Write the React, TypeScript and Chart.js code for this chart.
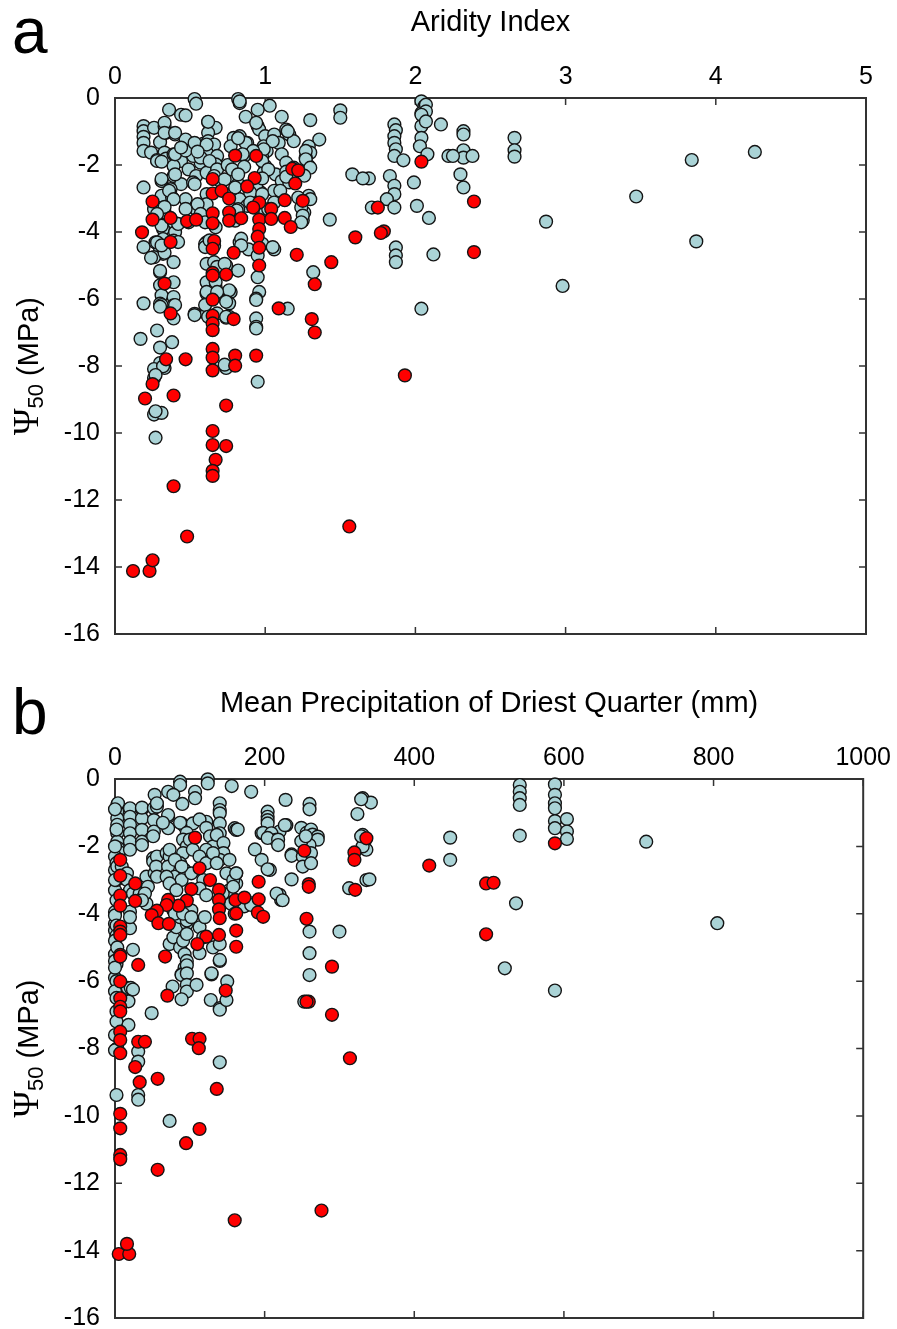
import React, { useEffect, useRef } from 'react';
import { Chart, registerables } from 'chart.js';

Chart.register(...registerables);

// ---------- tick labels ----------
const aridityTicks = [0, 1, 2, 3, 4, 5];
const precipTicks = [0, 200, 400, 600, 800, 1000];
const psiTicks = [0, -2, -4, -6, -8, -10, -12, -14, -16];

// ---------- panel a: Aridity Index vs Psi50 ----------
const aridityRed: [number, number][] = [
  [0.80, -1.72], [0.94, -1.73], [2.04, -1.90], [1.18, -2.11], [1.22, -2.16], [0.65, -2.42], [0.93, -2.39],
  [0.88, -2.64], [1.20, -2.55], [0.65, -2.85], [0.71, -2.77], [0.76, -3.00], [0.25, -3.09], [0.96, -3.12],
  [1.13, -3.05], [1.25, -3.07], [1.75, -3.27], [0.92, -3.27], [1.04, -3.31], [0.65, -3.44], [0.76, -3.41],
  [0.25, -3.63], [0.37, -3.58], [0.48, -3.68], [0.54, -3.63], [0.76, -3.66], [0.84, -3.59], [0.96, -3.63],
  [1.04, -3.61], [1.13, -3.58], [0.65, -3.74], [1.17, -3.85], [0.18, -4.01], [1.79, -3.98], [1.77, -4.03],
  [1.60, -4.16], [0.96, -3.91], [0.95, -4.14], [0.37, -4.30], [0.66, -4.27], [0.65, -4.50], [0.96, -4.47],
  [0.79, -4.62], [1.21, -4.68], [1.44, -4.90], [0.96, -5.00], [0.65, -5.22], [0.65, -5.30], [0.74, -5.27],
  [0.33, -5.54], [1.33, -5.56], [0.65, -6.02], [1.09, -6.28], [1.31, -6.60], [0.37, -6.43], [0.65, -6.50],
  [0.79, -6.60], [0.65, -6.73], [0.65, -6.93], [1.33, -7.00], [0.34, -7.80], [0.47, -7.80], [0.65, -7.49],
  [0.65, -7.75], [0.65, -8.13], [0.80, -7.69], [0.80, -7.99], [0.94, -7.69], [0.25, -8.54], [0.20, -8.97],
  [0.39, -8.88], [0.74, -9.18], [0.65, -9.94], [0.65, -10.36], [0.74, -10.39], [0.67, -10.80], [0.65, -11.13],
  [0.65, -11.28], [0.39, -11.59], [0.48, -13.09], [1.56, -12.79], [0.12, -14.12], [0.23, -14.12], [0.25, -13.80],
  [2.39, -3.09], [2.39, -4.60], [1.93, -8.28],
];

const aridityBlue: [number, number][] = [
  [0.53, -0.03], [0.54, -0.17], [0.82, -0.03], [0.83, -0.15], [0.36, -0.35], [0.44, -0.50], [0.47, -0.52],
  [1.03, -0.23], [0.95, -0.35], [0.87, -0.56], [1.11, -0.56], [1.30, -0.66], [1.50, -0.37], [1.50, -0.59],
  [0.95, -0.84], [0.96, -0.94], [0.62, -0.72], [0.67, -0.89], [0.19, -0.84], [0.19, -0.99], [0.19, -1.16],
  [0.19, -1.34], [0.19, -1.58], [0.26, -0.89], [0.33, -0.84], [0.34, -1.04], [0.40, -1.09], [0.30, -1.32],
  [0.24, -1.63], [0.33, -1.63], [0.28, -1.85], [0.34, -1.81], [0.39, -1.68], [0.44, -1.55], [0.47, -1.24],
  [0.54, -1.44], [0.59, -1.36], [0.62, -1.04], [0.62, -1.29], [0.66, -1.39], [0.61, -1.63], [0.68, -1.73],
  [0.67, -1.98], [0.79, -1.19], [0.83, -1.14], [0.88, -1.34], [0.77, -1.44], [0.86, -1.73], [1.00, -1.14],
  [1.06, -1.09], [1.14, -0.94], [1.16, -1.09], [1.19, -1.29], [1.36, -1.24], [1.29, -1.44], [1.30, -1.63],
  [1.27, -1.78], [1.29, -2.03], [0.99, -1.44], [1.01, -1.58], [0.98, -1.78], [1.09, -1.34], [1.11, -1.68],
  [1.14, -1.93], [1.19, -2.08], [1.07, -2.28], [1.11, -2.48], [1.00, -2.03], [0.99, -2.23], [1.06, -2.77],
  [1.16, -2.52], [1.29, -2.92], [1.26, -3.42], [1.25, -3.66], [1.43, -3.63], [0.57, -1.93], [0.52, -1.73],
  [0.44, -1.88], [0.39, -2.03], [0.49, -2.13], [0.54, -2.33], [0.61, -2.23], [0.39, -2.33], [0.31, -2.48],
  [0.44, -2.57], [0.52, -2.52], [0.37, -2.72], [0.31, -2.92], [0.38, -2.97], [0.47, -3.02], [0.54, -3.32],
  [0.59, -3.22], [0.70, -2.48], [0.79, -2.33], [0.82, -2.57], [0.79, -2.82], [0.83, -3.02], [0.97, -2.82],
  [0.94, -2.62], [1.10, -2.77], [0.88, -3.22], [0.82, -3.32], [1.00, -3.42], [0.26, -3.32], [0.33, -3.42],
  [0.39, -3.71], [0.32, -3.91], [0.40, -4.01], [0.32, -4.21], [0.39, -4.26], [0.27, -4.31], [0.30, -4.50],
  [0.32, -4.65], [0.26, -4.75], [0.39, -4.90], [0.30, -5.20], [0.30, -5.59], [0.39, -5.50], [0.31, -5.89],
  [0.39, -5.94], [0.39, -6.19], [0.30, -6.14], [0.39, -6.58], [0.61, -4.31], [0.60, -4.36], [0.66, -4.41],
  [0.89, -4.52], [0.83, -4.31], [1.06, -4.52], [0.95, -4.70], [0.61, -4.95], [0.66, -4.90], [0.74, -5.00],
  [0.82, -5.15], [1.32, -5.20], [0.95, -5.35], [0.61, -5.50], [0.67, -5.64], [0.77, -5.79], [0.74, -6.04],
  [0.61, -5.84], [0.96, -5.79], [0.94, -5.99], [0.53, -6.44], [0.61, -6.44], [0.74, -6.56], [0.94, -6.58],
  [1.15, -6.29], [2.04, -6.29],
  [1.86, -0.79], [1.87, -0.96], [1.86, -1.14], [1.86, -1.34], [1.87, -1.53], [1.86, -1.73], [1.92, -1.86],
  [2.04, -0.10], [2.06, -0.25], [2.04, -0.45], [2.06, -0.64], [2.04, -0.84], [2.17, -0.79], [2.04, -1.19],
  [2.03, -1.44], [2.08, -1.68], [1.99, -2.52], [2.01, -3.22], [2.09, -3.58], [2.12, -4.67], [1.58, -2.28],
  [1.69, -2.40], [1.83, -2.33], [1.86, -2.62], [1.86, -2.87], [1.81, -3.02], [1.71, -3.27], [1.86, -3.27],
  [1.87, -4.46], [1.87, -4.70], [1.87, -4.90], [2.22, -1.73],
  [2.07, -0.20], [2.07, -0.40], [2.04, -0.50], [2.07, -0.70], [2.32, -0.99], [2.32, -1.09], [2.66, -1.19],
  [2.66, -1.56], [2.66, -1.75], [2.32, -1.56], [2.32, -1.78], [2.25, -1.73], [2.38, -1.73], [2.30, -2.28],
  [2.32, -2.67], [2.87, -3.69], [2.98, -5.61], [3.47, -2.94], [3.84, -1.85], [3.87, -4.28], [4.26, -1.61],
  [0.31, -6.18], [0.53, -6.48], [0.60, -6.18], [0.68, -6.43], [0.76, -6.13], [0.76, -6.53], [0.94, -6.03],
  [0.94, -6.83], [0.94, -6.88], [0.17, -7.19], [0.28, -6.94], [0.30, -7.45], [0.38, -7.29], [0.30, -7.91],
  [0.33, -8.06], [0.26, -8.09], [0.26, -8.36], [0.26, -9.45], [0.31, -9.40], [0.27, -9.35], [0.27, -10.14],
  [0.74, -8.06], [0.95, -8.47], [0.19, -6.13], [0.19, -4.45], [0.19, -2.67],
  [0.24, -4.77], [0.33, -4.62], [0.30, -5.16], [0.30, -6.23], [0.40, -6.18], [0.32, -8.01], [0.27, -8.27],
  [0.60, -4.45], [0.68, -5.04], [0.73, -4.95], [0.67, -5.49], [0.61, -5.79], [0.76, -5.74], [0.68, -5.79],
  [0.74, -6.08], [0.62, -6.53], [0.74, -6.53], [0.73, -7.96],
  [0.33, -0.74], [0.33, -1.04], [0.40, -1.04], [0.28, -1.88], [0.31, -1.90], [0.40, -1.68], [0.47, -1.57],
  [0.53, -1.34], [0.61, -1.39], [0.44, -1.48], [0.57, -1.78], [0.55, -1.60], [0.63, -1.88], [0.68, -2.13],
  [0.75, -2.00], [0.66, -2.33], [0.73, -2.43], [0.78, -2.13], [0.31, -2.42], [0.40, -2.28], [0.36, -2.77],
  [0.39, -3.02], [0.53, -2.57], [0.61, -2.87], [0.61, -3.17], [0.55, -3.17], [0.47, -3.31], [0.33, -3.25],
  [0.28, -3.46], [0.31, -3.81], [0.42, -3.76], [0.57, -3.46], [0.60, -3.71], [0.49, -3.71], [0.67, -3.86],
  [0.28, -4.31], [0.31, -4.40], [0.42, -4.30], [0.63, -4.25], [0.62, -0.71],
  [0.83, -0.10], [0.94, -0.74], [1.15, -0.99], [1.05, -1.29], [0.87, -1.34], [0.82, -1.20], [0.99, -1.53],
  [0.92, -1.58], [0.85, -1.68], [1.27, -1.58], [1.27, -1.83], [1.30, -2.08], [0.98, -1.88], [1.02, -2.13],
  [0.86, -2.05], [0.82, -2.28], [0.98, -2.40], [1.14, -2.20], [1.14, -2.35], [1.26, -2.32], [0.80, -2.67],
  [0.90, -2.82], [0.98, -2.87], [1.22, -2.97], [1.30, -3.02], [0.90, -3.12], [1.06, -3.12], [1.24, -3.27],
  [1.02, -3.32], [1.25, -3.51], [1.24, -3.71], [0.81, -3.36], [0.80, -3.66], [1.65, -2.40], [0.84, -4.20],
  [0.84, -4.40], [0.98, -4.35], [1.05, -4.45],
];

// ---------- panel b: Mean Precipitation of Driest Quarter vs Psi50 ----------
const precipRed: [number, number][] = [
  [107, -1.74], [253, -2.13], [320, -2.18], [320, -2.40], [336, -1.76], [420, -2.57], [7, -2.40], [7, -2.87],
  [27, -3.10], [7, -3.46], [7, -3.76], [27, -3.62], [113, -2.65], [127, -3.00], [102, -3.27], [139, -3.29],
  [139, -3.59], [139, -3.87], [140, -4.13], [139, -4.63], [122, -4.68], [110, -4.90], [96, -3.61], [85, -3.76],
  [71, -3.59], [69, -3.74], [56, -3.91], [49, -4.04], [58, -4.28], [72, -4.30], [161, -3.59], [173, -3.52],
  [162, -3.99], [162, -4.50], [162, -4.98], [192, -3.05], [192, -3.57], [191, -3.96], [198, -4.09],
  [259, -3.12], [259, -3.20], [256, -4.15], [321, -3.29], [7, -4.38], [7, -4.53], [7, -4.63], [7, -5.22],
  [7, -5.27], [31, -5.52], [67, -5.27], [290, -5.57], [7, -6.01], [496, -3.10], [506, -3.08], [496, -4.61],
  [588, -1.91], [7, -6.51], [7, -6.76], [7, -6.90], [7, -7.50], [7, -7.75], [7, -8.14], [31, -7.80],
  [40, -7.80], [27, -8.55], [33, -9.00], [57, -8.90], [70, -6.43], [148, -6.28], [259, -6.61], [256, -6.61],
  [290, -7.00], [103, -7.71], [113, -7.71], [112, -7.99], [314, -8.29], [136, -9.20], [7, -9.94], [7, -10.37],
  [7, -11.16], [7, -11.29], [113, -10.39], [95, -10.81], [57, -11.60], [160, -13.10], [276, -12.81],
  [5, -14.10], [19, -14.10], [16, -13.80],
];

const precipBlue: [number, number][] = [
  [541, -0.18], [541, -0.38], [541, -0.57], [541, -0.77], [541, -1.68], [588, -0.16], [588, -0.47],
  [588, -0.72], [588, -0.87], [588, -1.25], [588, -1.46], [604, -1.19], [604, -1.56], [604, -1.78],
  [448, -1.74], [448, -2.40], [536, -3.69], [521, -5.62], [588, -6.28], [710, -1.86], [805, -4.28],
  [87, -0.08], [87, -0.18], [124, -0.01], [124, -0.13], [156, -0.21], [182, -0.38], [53, -0.47], [71, -0.38],
  [78, -0.47], [90, -0.74], [107, -0.38], [107, -0.57], [228, -0.62], [260, -0.74], [260, -0.90], [331, -0.57],
  [342, -0.70], [324, -1.04], [329, -0.60],
  [3, -0.77], [3, -0.97], [3, -1.17], [3, -1.36], [3, -1.61], [3, -1.86], [4, -2.05], [5, -2.16], [4, -0.72],
  [20, -0.87], [20, -1.12], [20, -1.36], [20, -1.61], [20, -1.86], [20, -2.10],
  [36, -0.90], [36, -1.17], [36, -1.51], [36, -1.86], [36, -0.85], [36, -1.96],
  [52, -0.87], [52, -1.22], [52, -1.56], [56, -0.82], [56, -0.72], [71, -1.12], [71, -1.46], [71, -1.07],
  [64, -1.30], [51, -1.70], [89, -1.32], [93, -1.41], [104, -1.32], [122, -1.27], [87, -1.30], [96, -1.60],
  [91, -1.80], [96, -2.00], [91, -2.20], [100, -1.80], [104, -2.10], [113, -1.20], [122, -1.45], [127, -1.70],
  [131, -2.00], [122, -2.10], [140, -0.72], [140, -0.92], [140, -1.02], [140, -1.32], [140, -1.61],
  [136, -1.66], [145, -1.90], [145, -2.20], [140, -2.40], [160, -1.46], [162, -1.51], [164, -1.50],
  [204, -0.97], [204, -1.12], [204, -1.22], [204, -1.32], [220, -1.56], [229, -1.37], [227, -1.37],
  [196, -1.61], [198, -1.60], [209, -1.61], [215, -1.81], [204, -1.75], [218, -1.80], [218, -1.96],
  [249, -1.45], [256, -1.60], [262, -1.50], [264, -1.65], [271, -1.71], [271, -1.80], [260, -1.96],
  [249, -1.85], [255, -1.70], [331, -1.66], [333, -1.90], [336, -2.10], [331, -2.00], [329, -1.70],
  [187, -2.09], [196, -2.40], [207, -2.70], [204, -2.68], [236, -2.24], [236, -2.28], [236, -2.98],
  [251, -2.30], [251, -2.60], [262, -2.20], [262, -2.50], [220, -3.44], [222, -3.59], [300, -4.53],
  [313, -3.24], [336, -3.00], [340, -2.98], [260, -4.53], [260, -5.17], [260, -5.82], [162, -2.80],
  [162, -3.10], [182, -3.69],
  [0, -2.30], [0, -2.70], [0, -3.30], [0, -3.95], [0, -4.30], [0, -4.50], [0, -5.20], [0, -5.90], [2, -2.50],
  [2, -3.00], [2, -4.70], [2, -5.50], [0, -4.05], [2, -4.35], [2, -4.65], [0, -0.90], [2, -1.50], [0, -2.00],
  [3, -2.60], [0, -3.00], [2, -3.60], [0, -4.80], [3, -5.00], [0, -5.40], [0, -5.60], [2, -6.00], [0, -6.30],
  [2, -6.90], [0, -7.60], [3, -8.00], [2, -6.50], [2, -7.20], [0, -8.05], [2, -9.38],
  [9, -2.60], [16, -2.80], [16, -3.00], [20, -3.30], [24, -3.40], [33, -3.40], [38, -3.50], [42, -3.70],
  [20, -3.94], [20, -4.43], [24, -5.07], [20, -4.10], [42, -2.90], [44, -3.20], [40, -3.40], [36, -3.60],
  [51, -2.35], [51, -2.45], [53, -2.80], [56, -2.30], [55, -2.60], [56, -2.90],
  [69, -2.20], [73, -2.30], [71, -2.60], [80, -2.90], [87, -2.50], [93, -2.70], [89, -3.00], [102, -2.80],
  [69, -2.90], [73, -3.10], [82, -3.30], [73, -2.10], [80, -2.40], [89, -2.60],
  [113, -2.30], [122, -2.50], [131, -2.20], [136, -2.50], [149, -2.80], [153, -2.40], [158, -3.00],
  [162, -2.80], [153, -3.30], [144, -3.40], [118, -3.00], [113, -3.25], [122, -3.45], [158, -3.20],
  [155, -3.70], [160, -4.00],
  [73, -4.90], [78, -4.70], [87, -5.00], [91, -4.80], [82, -4.40], [96, -4.30], [113, -4.40], [118, -4.70],
  [131, -5.00], [140, -4.90], [93, -5.20], [96, -5.40], [93, -5.60], [89, -5.80], [113, -5.17], [140, -5.40],
  [129, -5.80], [87, -4.10], [96, -4.20], [78, -3.90], [102, -3.90], [80, -4.00], [91, -4.00], [102, -4.10],
  [120, -4.10], [96, -4.60], [167, -3.74], [173, -3.78], [182, -3.74], [216, -3.40], [224, -3.60],
  [17, -6.20], [21, -6.20], [24, -6.25], [18, -6.60], [18, -7.30], [31, -8.09], [31, -8.39], [31, -9.38],
  [31, -9.52], [49, -6.95], [73, -10.15], [77, -6.16], [89, -5.82], [96, -5.53], [96, -5.77], [96, -6.11],
  [96, -6.31], [89, -6.54], [109, -6.11], [129, -5.77], [128, -6.56], [140, -6.80], [140, -6.85],
  [149, -6.56], [150, -6.01], [140, -8.41], [140, -5.37], [253, -6.61],
];

// ---------- styling ----------
const BLUE = 'rgb(170, 211, 214)';
const RED = 'rgb(255, 0, 0)';
const EDGE = '#141414';
const AXIS = '#333333';
const SANS = '"Liberation Sans", Arial, Helvetica, sans-serif';
const SERIF = '"Liberation Serif", "DejaVu Serif", "Times New Roman", serif';

type PanelProps = {
  top: number;
  height: number;
  bottomPad: number;
  axisTop: number;
  letter: string;
  xTitle: string;
  xTicks: number[];
  red: [number, number][];
  blue: [number, number][];
};

function makeFrame(p: PanelProps) {
  return {
    id: 'frame',
    beforeDatasetsDraw(chart: any) {
      const { ctx, chartArea: a, scales } = chart;
      ctx.save();
      ctx.strokeStyle = AXIS;
      ctx.lineWidth = 2;
      ctx.strokeRect(a.left, a.top, a.right - a.left, a.bottom - a.top);
      ctx.lineWidth = 1.5;
      const tl = 7;
      ctx.beginPath();
      p.xTicks.forEach((v) => {
        const px = scales.x.getPixelForValue(v);
        ctx.moveTo(px, a.top);
        ctx.lineTo(px, a.top + tl);
        ctx.moveTo(px, a.bottom);
        ctx.lineTo(px, a.bottom - tl);
      });
      psiTicks.forEach((v) => {
        const py = scales.y.getPixelForValue(v);
        ctx.moveTo(a.left, py);
        ctx.lineTo(a.left + tl, py);
        ctx.moveTo(a.right, py);
        ctx.lineTo(a.right - tl, py);
      });
      ctx.stroke();
      ctx.restore();
    },
    afterDraw(chart: any) {
      const { ctx, chartArea: a } = chart;
      ctx.save();
      ctx.fillStyle = '#000';
      ctx.textBaseline = 'alphabetic';
      // panel letter
      ctx.textAlign = 'left';
      ctx.font = `64px ${SANS}`;
      ctx.fillText(p.letter, 12, a.top - 45);
      // x axis title
      ctx.textAlign = 'center';
      ctx.font = `29px ${SANS}`;
      ctx.fillText(p.xTitle, (a.left + a.right) / 2, a.top - 67);
      // y axis title, rotated
      const cy = (a.top + a.bottom) / 2;
      ctx.translate(38, cy);
      ctx.rotate(-Math.PI / 2);
      ctx.textAlign = 'left';
      const f1 = `36px ${SERIF}`;
      const f2 = `22px ${SANS}`;
      const f3 = `29px ${SANS}`;
      ctx.font = f1;
      const w1 = ctx.measureText('Ψ').width;
      ctx.font = f2;
      const w2 = ctx.measureText('50').width;
      ctx.font = f3;
      const w3 = ctx.measureText(' (MPa)').width;
      let x = -(w1 + w2 + w3) / 2;
      ctx.font = f1;
      ctx.fillText('Ψ', x, 0);
      x += w1;
      ctx.font = f2;
      ctx.fillText('50', x, 5);
      x += w2;
      ctx.font = f3;
      ctx.fillText(' (MPa)', x, 0);
      ctx.restore();
    },
  };
}

function Panel(p: PanelProps) {
  const ref = useRef<HTMLCanvasElement | null>(null);
  useEffect(() => {
    const canvas = ref.current;
    if (!canvas) return;
    const tickFont = { family: SANS, size: 25 };
    const chart = new Chart(canvas, {
      type: 'scatter',
      data: {
        datasets: [
          {
            data: p.red.map(([x, y]) => ({ x, y })),
            backgroundColor: RED,
            borderColor: EDGE,
            borderWidth: 1.4,
            pointRadius: 6.4,
            clip: false as any,
          },
          {
            data: p.blue.map(([x, y]) => ({ x, y })),
            backgroundColor: BLUE,
            borderColor: EDGE,
            borderWidth: 1.4,
            pointRadius: 6.4,
            clip: false as any,
          },
        ],
      },
      options: {
        animation: false,
        responsive: false,
        maintainAspectRatio: false,
        events: [],
        layout: { padding: { left: 0, top: 0, right: 31, bottom: p.bottomPad } },
        plugins: { legend: { display: false }, tooltip: { enabled: false } },
        scales: {
          x: {
            type: 'linear',
            position: 'top',
            min: p.xTicks[0],
            max: p.xTicks[p.xTicks.length - 1],
            afterBuildTicks: (s: any) => {
              s.ticks = p.xTicks.map((v) => ({ value: v }));
            },
            afterFit: (s: any) => {
              s.height = p.axisTop;
            },
            ticks: {
              font: tickFont,
              color: '#000',
              padding: 6,
              maxRotation: 0,
              autoSkip: false,
              callback: (v: any) => String(v),
            },
            grid: { display: false, drawTicks: false },
            border: { display: false },
          },
          y: {
            type: 'linear',
            position: 'left',
            min: -16,
            max: 0,
            afterBuildTicks: (s: any) => {
              s.ticks = psiTicks.map((v) => ({ value: v }));
            },
            afterFit: (s: any) => {
              s.width = 115;
            },
            ticks: {
              font: tickFont,
              color: '#000',
              padding: 15,
              autoSkip: false,
              callback: (v: any) => String(v),
            },
            grid: { display: false, drawTicks: false },
            border: { display: false },
          },
        },
      } as any,
      plugins: [makeFrame(p)],
    });
    return () => chart.destroy();
  }, []);
  return (
    <canvas
      ref={ref}
      width={897}
      height={p.height}
      style={{ position: 'absolute', left: 0, top: p.top, width: 897, height: p.height }}
    />
  );
}

export default function App() {
  return (
    <div
      style={{
        position: 'absolute',
        left: 0,
        top: 0,
        width: 897,
        height: 1329,
        overflow: 'hidden',
        background: '#fff',
      }}
    >
      <Panel
        top={0}
        height={664}
        bottomPad={26}
        axisTop={98}
        letter="a"
        xTitle="Aridity Index"
        xTicks={aridityTicks}
        red={aridityRed}
        blue={aridityBlue}
      />
      <Panel
        top={664}
        height={690}
        bottomPad={36}
        axisTop={115}
        letter="b"
        xTitle="Mean Precipitation of Driest Quarter (mm)"
        xTicks={precipTicks}
        red={precipRed}
        blue={precipBlue}
      />
    </div>
  );
}
